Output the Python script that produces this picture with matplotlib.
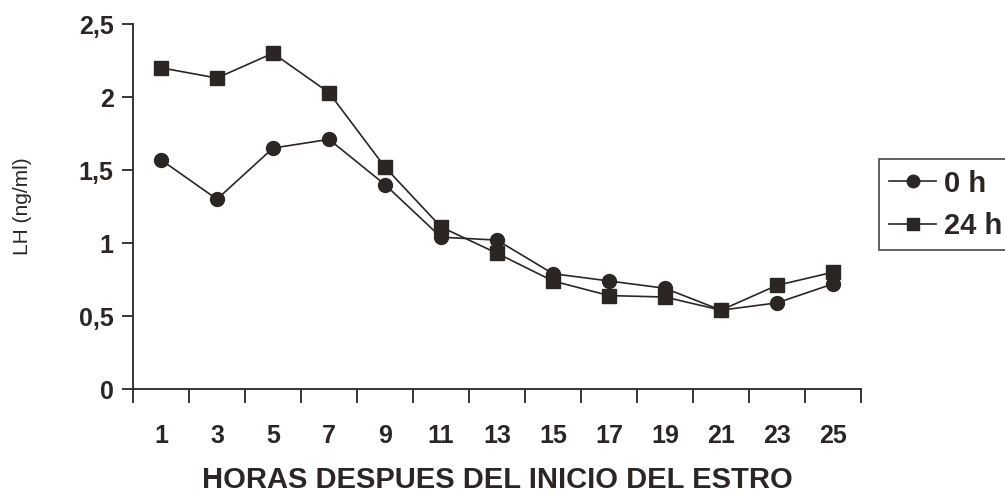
import matplotlib.pyplot as plt
from matplotlib.ticker import FixedLocator, NullFormatter

hours = [1, 3, 5, 7, 9, 11, 13, 15, 17, 19, 21, 23, 25]
lh_0h = [1.57, 1.30, 1.65, 1.71, 1.40, 1.04, 1.02, 0.79, 0.74, 0.69, 0.54, 0.59, 0.72]
lh_24h = [2.20, 2.13, 2.30, 2.03, 1.52, 1.11, 0.93, 0.74, 0.64, 0.63, 0.54, 0.71, 0.80]
y_ticks = [0, 0.5, 1, 1.5, 2, 2.5]
y_labels = ["0", "0,5", "1", "1,5", "2", "2,5"]

ink = "#2b2624"
sans = ["Liberation Sans", "DejaVu Sans"]

fig = plt.figure(figsize=(10.05, 4.96), dpi=100)
ax = fig.add_axes([0.1323, 0.2157, 0.7244, 0.7359])

ax.plot(hours, lh_0h, color=ink, lw=1.2, marker="o", ms=10, label="0 h")
ax.plot(hours, lh_24h, color=ink, lw=1.2, marker="s", ms=9.5, label="24 h")

ax.set_xlim(0, 26)
ax.set_ylim(0, 2.5)
ax.spines["top"].set_visible(False)
ax.spines["right"].set_visible(False)
for s in ("left", "bottom"):
    ax.spines[s].set_color(ink)
    ax.spines[s].set_linewidth(1.3)

# category labels in the middle, tick marks on the boundaries
ax.set_xticks(hours)
ax.set_xticklabels([str(h) for h in hours], family=sans, weight="bold", fontsize=18, color=ink)
ax.tick_params(axis="x", which="major", length=0, pad=25)
ax.xaxis.set_minor_locator(FixedLocator(list(range(0, 27, 2))))
ax.xaxis.set_minor_formatter(NullFormatter())
ax.tick_params(axis="x", which="minor", length=10, width=1.3, color=ink, direction="out")

ax.set_yticks(y_ticks)
ax.set_yticklabels(y_labels, family=sans, weight="bold", fontsize=18, color=ink)
ax.tick_params(axis="y", length=8, width=1.3, color=ink, pad=6)

ax.set_xlabel("HORAS DESPUES DEL INICIO DEL ESTRO", family=sans, weight="bold",
              fontsize=21, color=ink)
ax.xaxis.set_label_coords(0.5, -0.212)
ax.set_ylabel("LH (ng/ml)", family=sans, fontsize=15, color=ink)
ax.yaxis.set_label_coords(-0.139, 0.5)

leg = fig.legend(loc="center left", bbox_to_anchor=(0.8746, 0.5867), frameon=True, fancybox=False,
                 prop={"family": sans, "weight": "bold", "size": 21}, handlelength=1.6,
                 handletextpad=0.28, borderpad=0.35, labelspacing=0.5, borderaxespad=0,
                 markerscale=0.9)
leg.get_frame().set_edgecolor(ink)
leg.get_frame().set_linewidth(1.3)
for t in leg.get_texts():
    t.set_color(ink)

fig.savefig("out.png", dpi=100)
